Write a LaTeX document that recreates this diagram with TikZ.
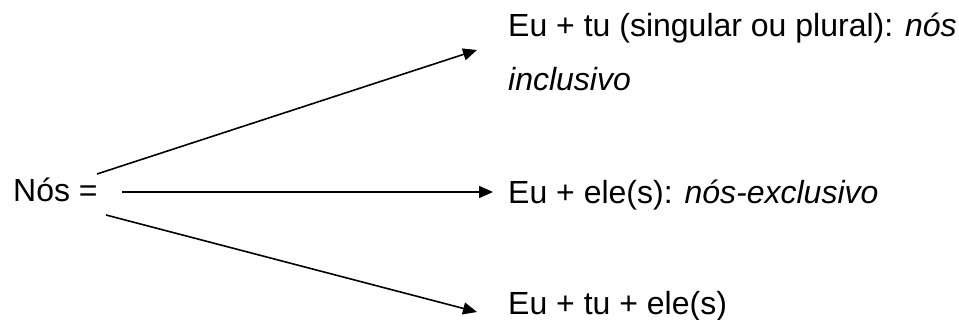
\documentclass[tikz,border=0pt]{standalone}
\usepackage{fontspec}
\setmainfont{Liberation Sans}
\usetikzlibrary{arrows.meta}
\begin{document}
\begin{tikzpicture}[x=1pt,y=-1pt,
  label text/.style={anchor=base west,inner sep=0pt,font=\fontsize{32}{38}\selectfont},
  link/.style={line width=1.6pt,-{Triangle[length=14pt,width=12pt]}}]
  \useasboundingbox (0,0) rectangle (959,320);
  % source term
  \node[label text] (nos) at (13,202) {Nós =};
  % the three readings
  \node[label text] (incl1) at (508,37) {Eu + tu (singular ou plural): \textit{nós}};
  \node[label text] (incl2) at (508,91) {\textit{inclusivo}};
  \node[label text] (excl) at (508,204) {Eu + ele(s): \textit{nós-exclusivo}};
  \node[label text] (all) at (508,315) {Eu + tu + ele(s)};
  % arrow ends
  \coordinate (s1) at (97,174);
  \coordinate (e1) at (477,50);
  \coordinate (s2) at (122,192);
  \coordinate (e2) at (493,192);
  \coordinate (s3) at (106,215);
  \coordinate (e3) at (477,312);
  \draw[link] (s1) -- (e1);
  \draw[link] (s2) -- (e2);
  \draw[link] (s3) -- (e3);
\end{tikzpicture}
\end{document}
